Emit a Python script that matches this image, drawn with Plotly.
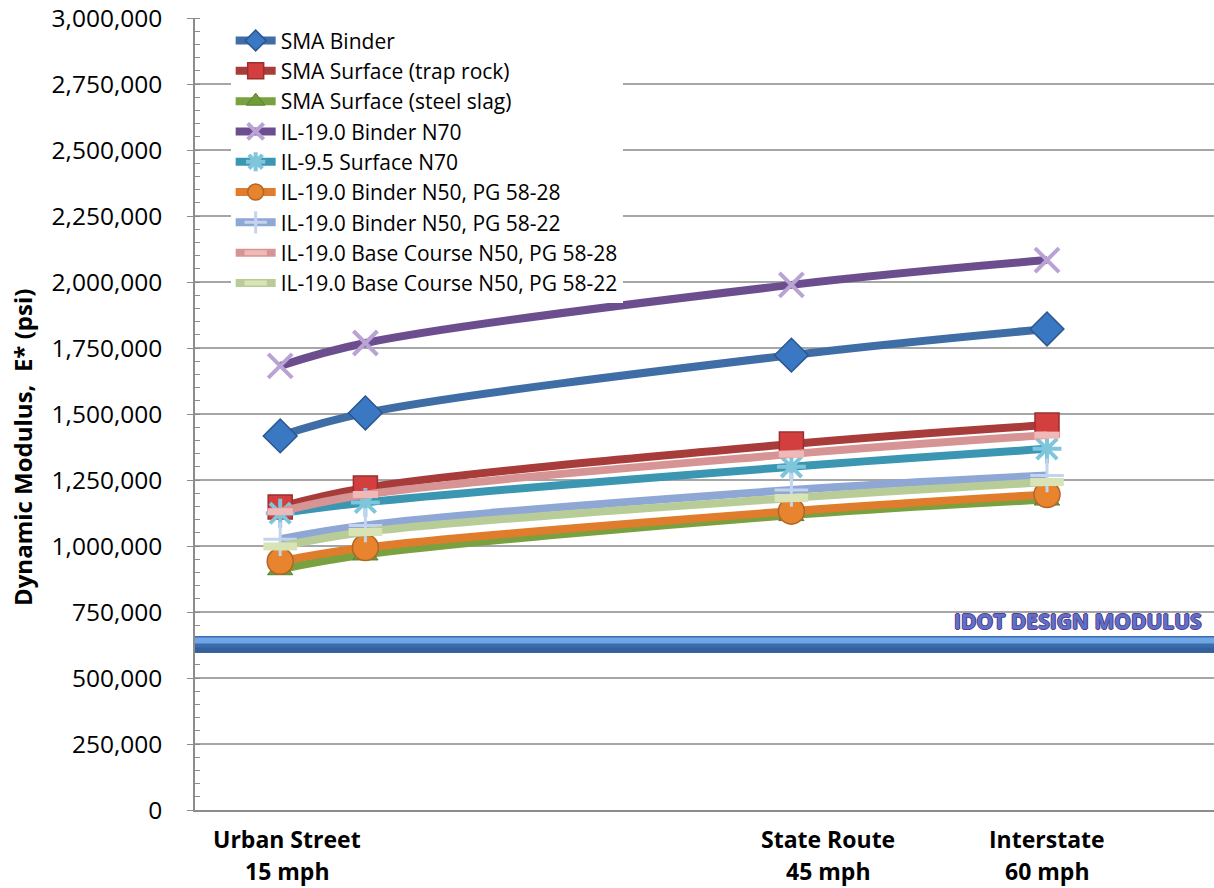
import plotly.graph_objects as go

# Traffic speed (mph) at which each mix was evaluated
speed_mph = [15, 20, 45, 60]

# Dynamic modulus E* (psi) for each mix
sma_binder = [1417000, 1504000, 1723000, 1822000]
sma_surface_trap = [1148000, 1220000, 1386000, 1458000]
sma_surface_slag = [912000, 968000, 1117000, 1176000]
il19_binder_n70 = [1682000, 1769000, 1989000, 2083000]
il95_surface_n70 = [1124000, 1165000, 1300000, 1368000]
il19_binder_n50_5828 = [942000, 994000, 1132000, 1195000]
il19_binder_n50_5822 = [1026000, 1078000, 1212000, 1267000]
il19_base_n50_5828 = [1130000, 1195000, 1348000, 1420000]
il19_base_n50_5822 = [998000, 1053000, 1182000, 1242000]

idot_design_modulus = 627000

# Axis labelling
road_types = ["Urban Street", "State Route", "Interstate"]
road_speeds = [15, 45, 60]
speed_labels = ["15 mph", "45 mph", "60 mph"]
y_ticks = [0, 250000, 500000, 750000, 1000000, 1250000, 1500000, 1750000,
           2000000, 2250000, 2500000, 2750000, 3000000]

series = [
    ("SMA Binder", sma_binder, "#3f6da6",
     dict(symbol="diamond", size=26, color="#3a78c4", line=dict(color="#2b568e", width=1.5))),
    ("SMA Surface (trap rock)", sma_surface_trap, "#a83c3a",
     dict(symbol="square", size=24, color="#d23f3e", line=dict(color="#9c2f2e", width=1.5))),
    ("SMA Surface (steel slag)", sma_surface_slag, "#7aa13f",
     dict(symbol="triangle-up", size=22, color="#6f9b3a", line=dict(color="#5a8030", width=1))),
    ("IL-19.0 Binder N70", il19_binder_n70, "#6c4e8e",
     dict(symbol="x-thin-open", size=24, color="#b9a3d4", line=dict(color="#b9a3d4", width=4))),
    ("IL-9.5 Surface N70", il95_surface_n70, "#3a96b1",
     dict(symbol="asterisk-open", size=24, color="#7fc6dc", line=dict(color="#7fc6dc", width=4))),
    ("IL-19.0 Binder N50, PG 58-28", il19_binder_n50_5828, "#e07d2c",
     dict(symbol="circle", size=26, color="#e8842e", line=dict(color="#b0652a", width=1.5))),
    ("IL-19.0 Binder N50, PG 58-22", il19_binder_n50_5822, "#8ea7d4",
     dict(symbol="cross-thin-open", size=24, color="#c4d3ee", line=dict(color="#c4d3ee", width=3))),
    ("IL-19.0 Base Course N50, PG 58-28", il19_base_n50_5828, "#d69494",
     dict(symbol="line-ew-open", size=18, color="#f1b8b8", line=dict(color="#f1b8b8", width=7))),
    ("IL-19.0 Base Course N50, PG 58-22", il19_base_n50_5822, "#b8cc97",
     dict(symbol="line-ew-open", size=24, color="#d8e4b6", line=dict(color="#d8e4b6", width=8))),
]

fig = go.Figure()

for i, (name, values, line_color, marker) in enumerate(series):
    fig.add_trace(go.Scatter(
        x=speed_mph, y=values, name=name, legendgroup=f"g{i}",
        mode="lines+markers",
        line=dict(color=line_color, width=8, shape="spline", smoothing=1.0),
        marker=marker,
    ))

x_range = [10, 69.8]

# Design modulus reference band
fig.add_trace(go.Scatter(
    x=x_range, y=[idot_design_modulus, idot_design_modulus],
    mode="lines", showlegend=False, hoverinfo="skip",
    line=dict(color="#3d6cae", width=17),
))
fig.add_shape(type="rect", xref="paper", x0=0, x1=1,
              yref="y", ysizemode="pixel", yanchor=idot_design_modulus,
              y0=1, y1=7, line=dict(width=0), fillcolor="#6ea6e6", layer="above")
fig.add_shape(type="rect", xref="paper", x0=0, x1=1,
              yref="y", ysizemode="pixel", yanchor=idot_design_modulus,
              y0=-8, y1=-3, line=dict(width=0), fillcolor="#34609c", layer="above")

fig.add_annotation(
    x=1, xref="paper", xanchor="right", xshift=-10,
    y=idot_design_modulus, yref="y", yanchor="bottom", yshift=7,
    text="<b>IDOT DESIGN MODULUS</b>", showarrow=False,
    font=dict(family="Open Sans", size=21, color="#5b72c8",
              shadow="1px 0 0 #5a3d8c, -1px 0 0 #5a3d8c, 0 1px 0 #5a3d8c, 0 -1px 0 #5a3d8c"),
)

# Category labels under the speed axis
label_shift = [7, 37, 0]
for xv, road, spd, dx in zip(road_speeds, road_types, speed_labels, label_shift):
    fig.add_annotation(x=xv, xref="x", y=0, yref="paper", yanchor="middle",
                       xshift=dx, yshift=-29, showarrow=False,
                       text=f"<b>{road}</b>",
                       font=dict(family="Open Sans", size=23, color="black"))
    fig.add_annotation(x=xv, xref="x", y=0, yref="paper", yanchor="middle",
                       xshift=dx, yshift=-61, showarrow=False,
                       text=f"<b>{spd}</b>",
                       font=dict(family="Open Sans", size=23, color="black"))

# Y axis title
fig.add_annotation(x=0, xref="paper", xanchor="center", xshift=-173,
                   y=0.457, yref="paper", yanchor="middle", textangle=-90,
                   showarrow=False, text="<b>Dynamic Modulus,  E* (psi)</b>",
                   font=dict(family="Open Sans", size=24, color="black"))

fig.update_layout(
    width=1214, height=888,
    margin=dict(l=195, r=0, t=18, b=78),
    paper_bgcolor="white", plot_bgcolor="white",
    font=dict(family="Open Sans", color="black"),
    showlegend=True,
    legend=dict(
        x=0.035, y=0.997, xanchor="left", yanchor="top",
        bgcolor="white", borderwidth=0,
        font=dict(family="Open Sans", size=21, color="black"),
        tracegroupgap=0, itemwidth=40,
    ),
    xaxis=dict(
        range=x_range, showgrid=False, zeroline=False,
        showticklabels=False, ticks="",
        showline=True, linecolor="#8c8c8c", linewidth=1.5,
    ),
    yaxis=dict(
        range=[0, 3000000], tickvals=y_ticks, tickformat=",",
        showgrid=True, gridcolor="#a6a6a6", gridwidth=1.5,
        zeroline=False, showline=True, linecolor="#8c8c8c", linewidth=1.5,
        ticks="outside", ticklen=6, tickcolor="#8c8c8c",
        minor=dict(dtick=50000, ticks="inside", ticklen=5, tickcolor="#8c8c8c", showgrid=False),
        tickfont=dict(family="Open Sans", size=24.5, color="black"),
        ticklabelstandoff=20,
    ),
)

fig.write_html("out.html")
